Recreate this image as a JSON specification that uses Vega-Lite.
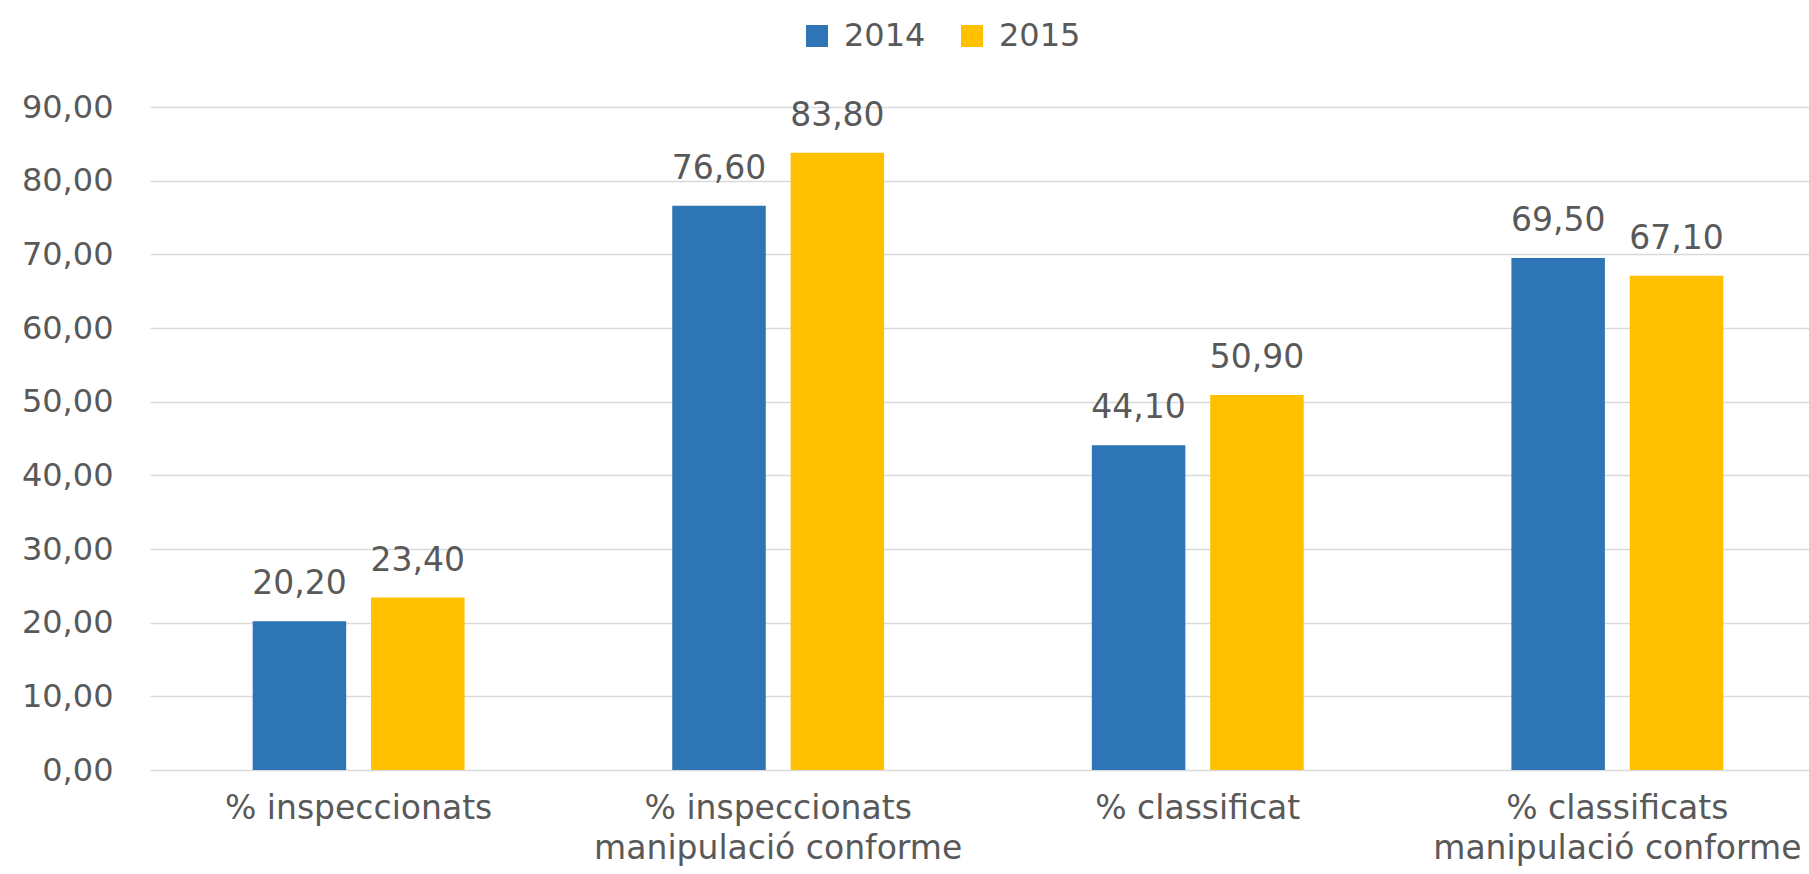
{
  "$schema": "https://vega.github.io/schema/vega-lite/v6.json",
  "autosize": {"type": "none"},
  "width": 1659,
  "height": 663,
  "padding": {"left": 150, "top": 107, "right": 0, "bottom": 104},
  "background": "white",
  "config": {
    "locale": {"number": {"decimal": ",", "thousands": ".", "grouping": [3], "currency": ["", " €"]}},
    "font": "DejaVu Sans",
    "view": {"stroke": null}
  },
  "data": {
    "values": [
      {"categoria": "% inspeccionats", "any": "2014", "valor": 20.2},
      {"categoria": "% inspeccionats", "any": "2015", "valor": 23.4},
      {"categoria": "% inspeccionats manipulació conforme", "any": "2014", "valor": 76.6},
      {"categoria": "% inspeccionats manipulació conforme", "any": "2015", "valor": 83.8},
      {"categoria": "% classificat", "any": "2014", "valor": 44.1},
      {"categoria": "% classificat", "any": "2015", "valor": 50.9},
      {"categoria": "% classificats manipulació conforme", "any": "2014", "valor": 69.5},
      {"categoria": "% classificats manipulació conforme", "any": "2015", "valor": 67.1}
    ]
  },
  "encoding": {
    "x": {
      "field": "categoria",
      "type": "nominal",
      "sort": null,
      "scale": {"paddingInner": 0.495, "paddingOuter": 0.2245, "align": 0.545},
      "axis": {
        "title": null,
        "labelAngle": 0,
        "labelFontSize": 33,
        "labelColor": "#595959",
        "labelPadding": 22,
        "labelLineHeight": 40,
        "labelLimit": 0,
        "ticks": false,
        "domain": false,
        "labelExpr": "indexof(datum.label, ' manipulació') > 0 ? [substring(datum.label, 0, indexof(datum.label, ' manipulació')), 'manipulació conforme'] : datum.label"
      }
    },
    "xOffset": {"field": "any", "type": "nominal", "scale": {"paddingInner": 0.21, "paddingOuter": 0}},
    "y": {
      "field": "valor",
      "type": "quantitative",
      "scale": {"domain": [0, 90], "nice": false},
      "axis": {
        "title": null,
        "values": [0, 10, 20, 30, 40, 50, 60, 70, 80, 90],
        "format": ".2f",
        "labelFontSize": 32,
        "labelColor": "#595959",
        "labelPadding": 37,
        "ticks": false,
        "domain": false,
        "gridColor": "#D9D9D9",
        "gridWidth": 1.5
      }
    }
  },
  "layer": [
    {
      "mark": {"type": "bar"},
      "encoding": {
        "color": {
          "field": "any",
          "type": "nominal",
          "scale": {"domain": ["2014", "2015"], "range": ["#2E75B6", "#FFC000"]},
          "legend": {
            "title": null,
            "orient": "none",
            "direction": "horizontal",
            "legendX": 651,
            "legendY": -87,
            "symbolType": "square",
            "symbolSize": 484,
            "symbolStrokeWidth": 0,
            "labelFontSize": 32,
            "labelColor": "#595959",
            "columnPadding": 30,
            "labelOffset": 11
          }
        }
      }
    },
    {
      "mark": {"type": "text", "baseline": "alphabetic", "dy": -27, "fontSize": 33, "color": "#595959"},
      "encoding": {
        "text": {"field": "valor", "type": "quantitative", "format": ".2f"}
      }
    }
  ]
}
